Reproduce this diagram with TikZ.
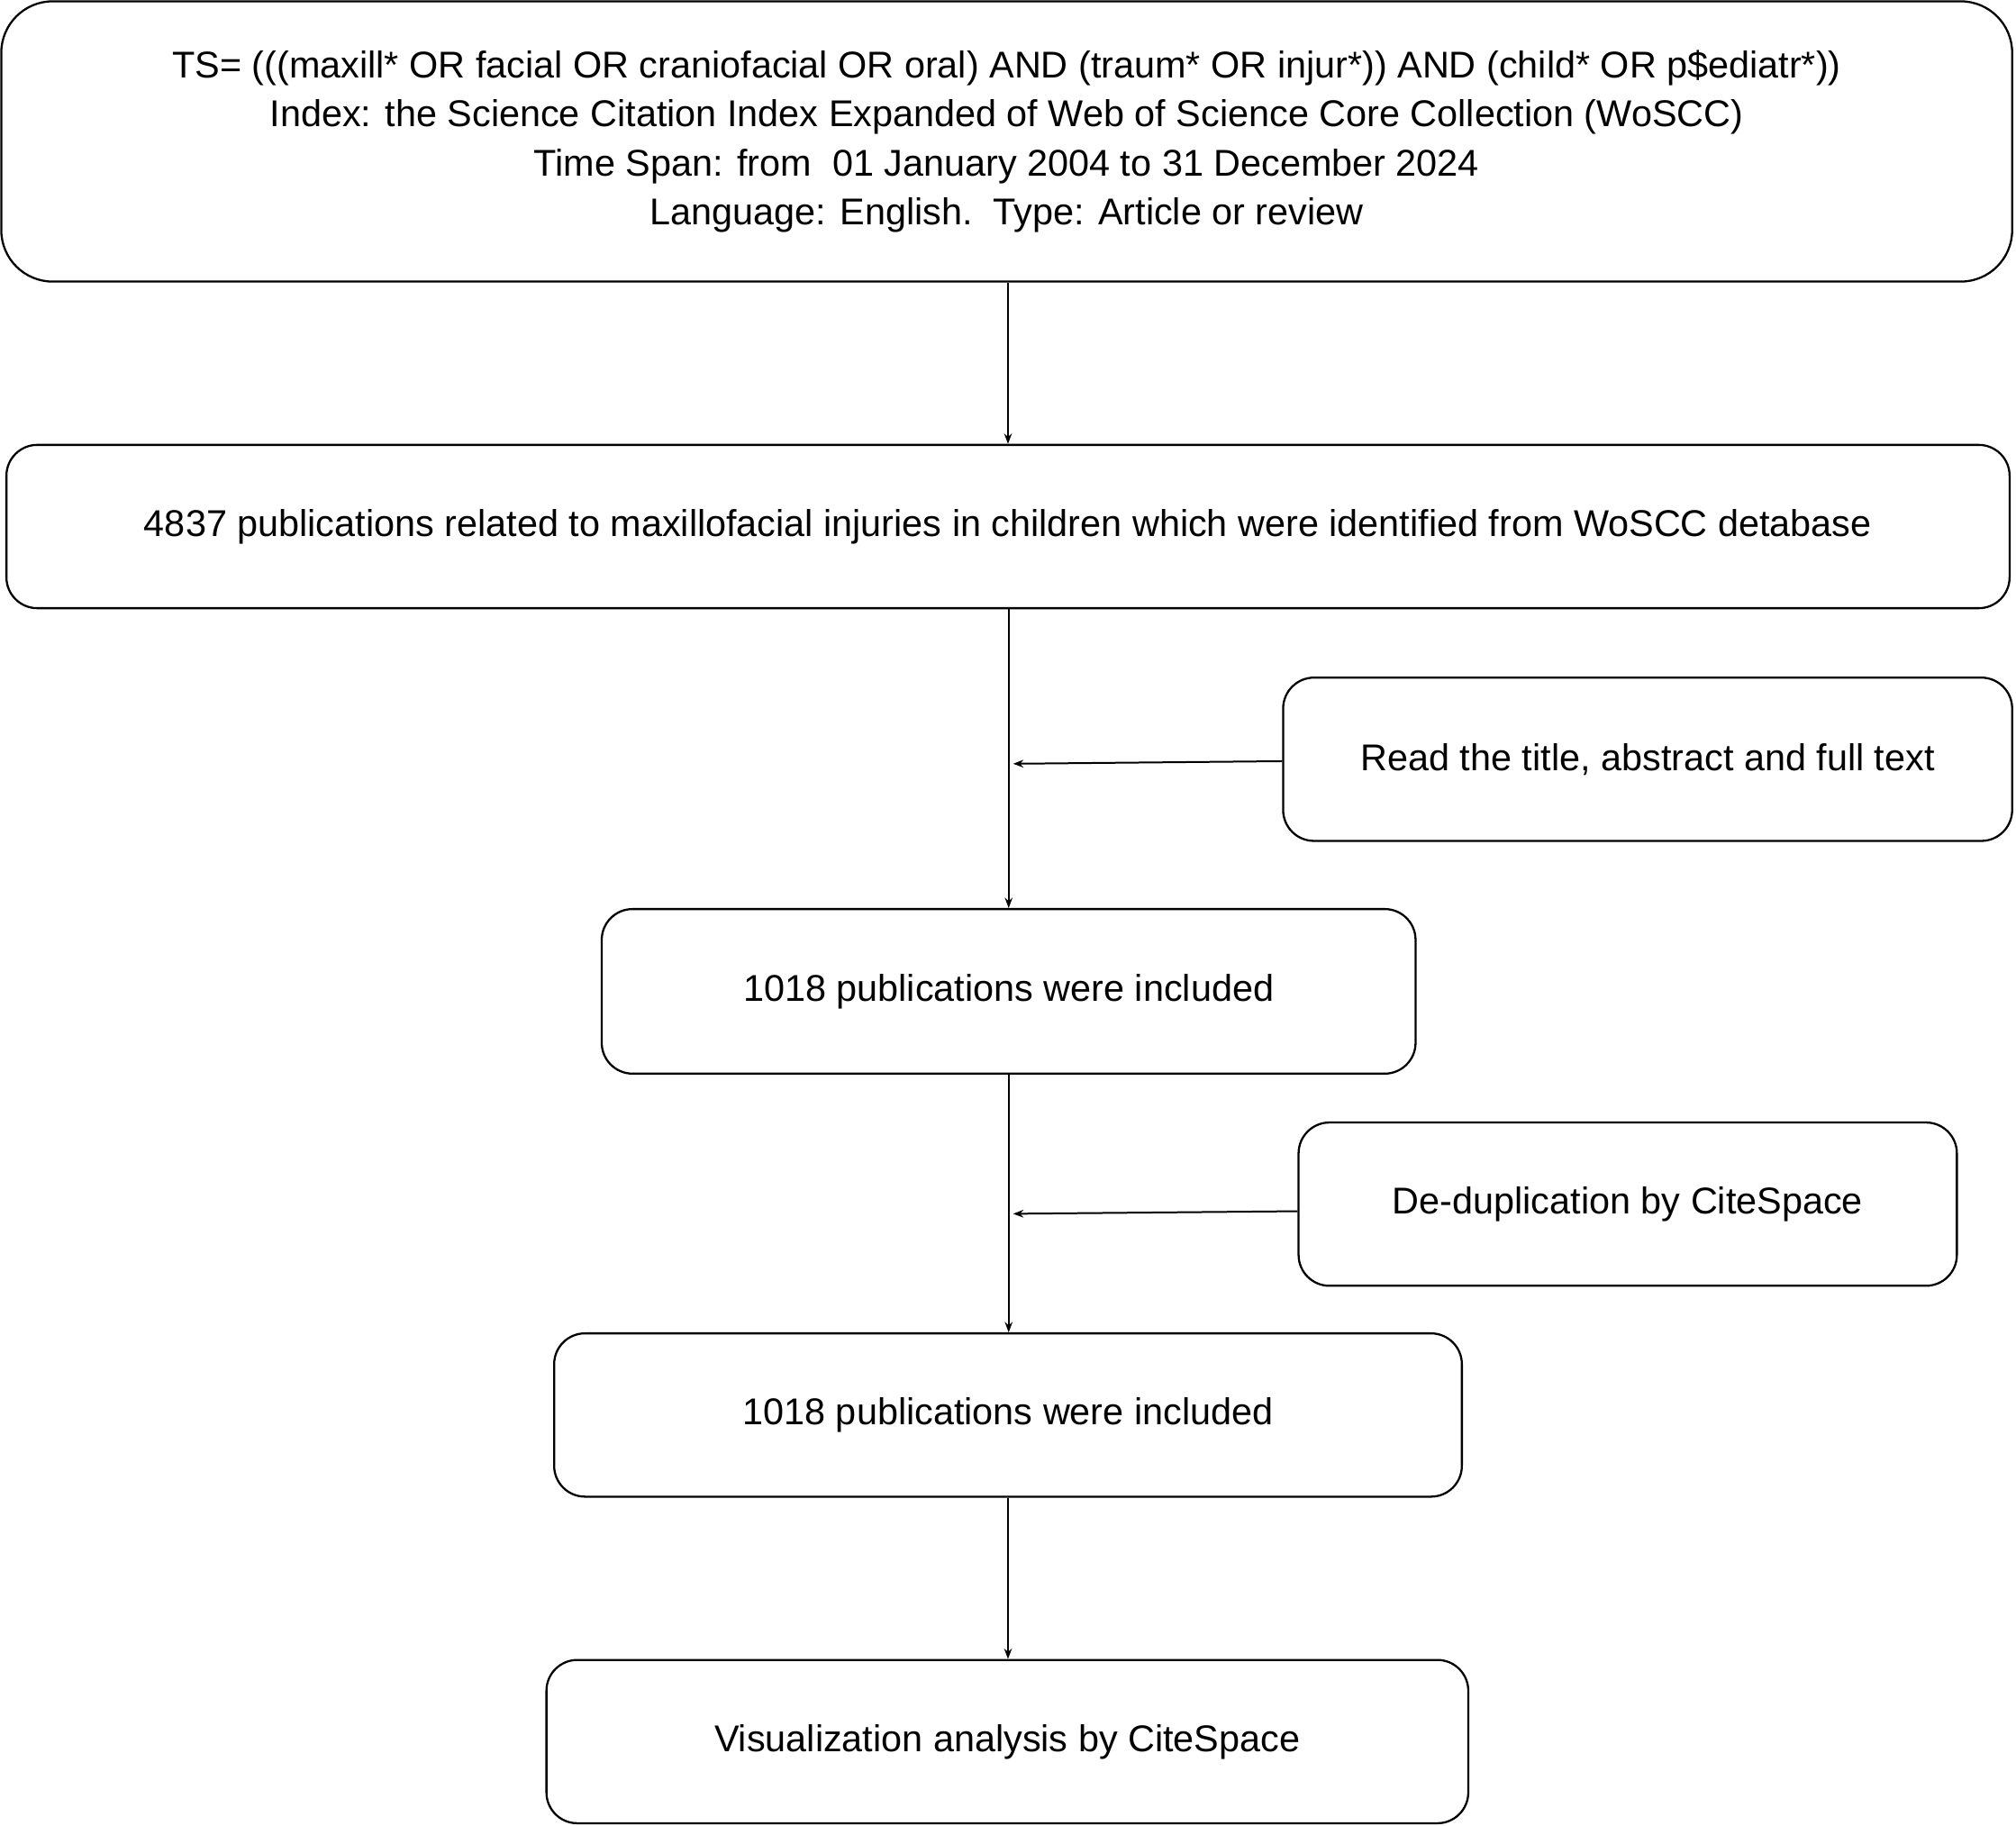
\documentclass[tikz,border=0pt]{standalone}
\usepackage{fontspec}
\setmainfont{Liberation Sans}
\usetikzlibrary{arrows.meta}
\tikzset{
  box/.style={draw, line width=0.8pt, rounded corners=12pt, align=center, inner sep=0pt},
  flow/.style={-{Stealth[length=4pt,width=3pt]}, line width=0.7pt}
}
\begin{document}
\begin{tikzpicture}[x=0.5pt, y=-0.5pt]
\fontsize{14.5}{19}\selectfont
\useasboundingbox (0,0) rectangle (1568,1420);

% main boxes
\node[box, minimum width=782pt, minimum height=109pt, rounded corners=20pt] (query) at (783,110)
  {TS= (((maxill* OR facial OR craniofacial OR oral) AND (traum* OR injur*)) AND (child* OR p\$ediatr*))\\
   Index: the Science Citation Index Expanded of Web of Science Core Collection (WoSCC)\\
   Time Span: from\ \ 01 January 2004 to 31 December 2024\\
   Language: English.\ \ Type: Article or review};
\node[box, minimum width=779pt, minimum height=63.5pt] (found) at (784,409.5)
  {4837 publications related to maxillofacial injuries in children which were identified from WoSCC detabase};
\node[box, minimum width=316.5pt, minimum height=64pt] (incl1) at (784.5,771)
  {1018 publications were included};
\node[box, minimum width=353pt, minimum height=63.5pt] (incl2) at (784,1100.5)
  {1018 publications were included};
\node[box, minimum width=358.5pt, minimum height=63.5pt] (vis) at (783.5,1354.5)
  {Visualization analysis by CiteSpace};

% side boxes
\node[box, minimum width=283.5pt, minimum height=63.5pt] (read) at (1281.5,590.5)
  {Read the title, abstract and full text};
\node[box, minimum width=256pt, minimum height=63.5pt] (dedup) at (1266,936.5)
  {De-duplication by CiteSpace};

\coordinate (m1) at (788,594);
\coordinate (m2) at (788,944);

% connectors
\draw[flow] (query.south -| found.north) -- (found.north);
\draw[flow] (found.south -| incl1.north) -- (incl1.north);
\draw[flow] (incl1.south) -- (incl2.north -| incl1.south);
\draw[flow] (incl2.south) -- (vis.north -| incl2.south);
\draw[flow] (read.west |- 0,592) -- (m1);
\draw[flow] (dedup.west |- 0,942) -- (m2);
\end{tikzpicture}
\end{document}
